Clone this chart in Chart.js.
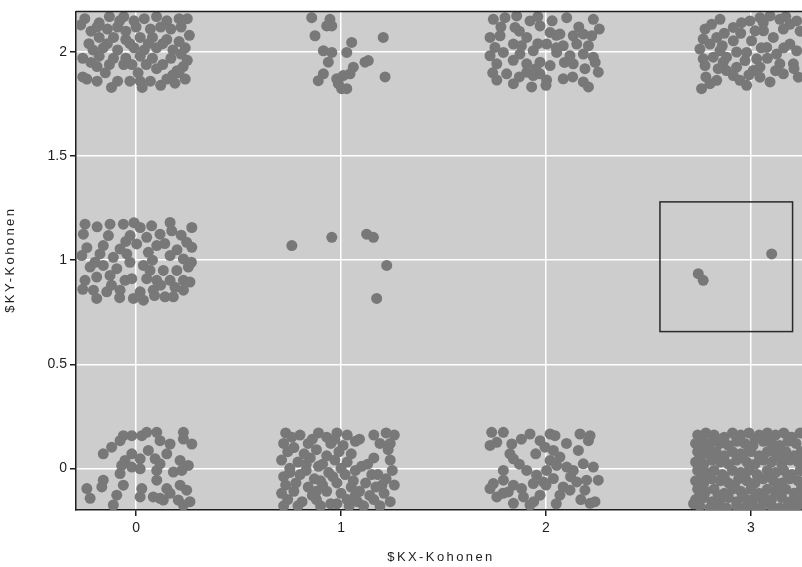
<!DOCTYPE html>
<html>
<head>
<meta charset="utf-8">
<script src="https://cdn.jsdelivr.net/npm/chart.js@4.4.1/dist/chart.umd.min.js"></script>
<style>
  html, body { margin:0; padding:0; background:#fff; }
  #wrap { width:802px; height:567px; }
</style>
</head>
<body>
<div id="wrap"><canvas id="kohonen" width="802" height="567"></canvas></div>
<script>
/* ---------- DATA ---------- */
const xTicks = [0, 1, 2, 3];
const yTicks = [0, 0.5, 1, 1.5, 2];
const xRange = [-0.293, 3.249];
const yRange = [-0.2, 2.195];
const xTitle = "$KX-Kohonen";
const yTitle = "$KY-Kohonen";
// highlighted cell (data units)
const boxX = [2.556, 3.203];
const boxY = [0.657, 1.28];

// cluster (0,2)
const c02 = [
  [-0.25,2.16],[-0.18,2.14],[-0.13,2.17],[-0.06,2.17],[-0.01,2.15],[0.04,2.16],[0.10,2.17],[0.15,2.15],[0.21,2.16],[0.25,2.16],
  [-0.22,2.10],[-0.19,2.12],[-0.14,2.11],[-0.09,2.12],[-0.05,2.10],[0.00,2.12],[0.07,2.11],[0.12,2.12],[0.17,2.11],[0.26,2.08],
  [-0.18,2.07],[-0.11,2.07],[-0.05,2.06],[0.02,2.07],[0.08,2.07],[0.15,2.06],[0.21,2.05],
  [-0.21,2.01],[-0.16,2.02],[-0.09,2.01],[-0.01,2.02],[0.04,2.01],[0.10,2.02],[0.18,2.01],
  [-0.26,1.97],[-0.18,1.98],[-0.11,1.97],[-0.05,1.97],[0.02,1.98],[0.08,1.97],[0.17,1.97],[0.22,1.99],[0.25,1.96],
  [-0.19,1.93],[-0.13,1.94],[-0.06,1.94],[0.05,1.94],[0.13,1.94],[0.20,1.91],[0.23,1.93],
  [-0.24,1.87],[-0.19,1.86],[-0.09,1.86],[-0.03,1.86],[0.02,1.86],[0.07,1.86],[0.12,1.84],[0.15,1.87],[0.18,1.89],[0.21,1.90],
  [-0.12,1.83],[0.03,1.83],[0.19,1.85],
  [-0.23,2.04],[-0.14,2.04],[-0.03,2.04],[0.06,2.04],[0.13,2.04],[0.24,2.02],[-0.22,1.95],[-0.02,1.94],
  [0.10,1.92],[-0.15,1.90],[-0.27,2.13],[0.22,2.12],[-0.08,2.15],[0.01,1.90],[-0.26,1.88],[0.24,1.87]
];
// cluster (1,2)
const c12 = [
  [0.857,2.165],[0.946,2.157],[0.93,2.125],[0.955,2.125],[0.873,2.078],[1.052,2.046],[1.206,2.07],
  [0.914,2.006],[0.955,1.998],[1.028,1.998],[0.938,1.951],[1.117,1.951],[1.133,1.959],[1.06,1.927],
  [0.914,1.895],[1.044,1.895],[1.215,1.88],[0.889,1.862],[0.979,1.871],[1.011,1.887],[1.003,1.824],
  [1.028,1.824],[0.987,1.848]
];
// cluster (2,2)
const c22 = [
  [1.743,2.157],[1.80,2.165],[1.857,2.173],[1.922,2.149],[1.971,2.125],[1.849,2.118],[2.101,2.165],[2.231,2.157],
  [1.727,2.07],[1.776,2.078],[1.906,2.07],[2.02,2.094],[2.068,2.086],[2.133,2.078],[2.182,2.086],[2.223,2.078],
  [1.751,2.022],[1.841,2.038],[2.003,2.038],[2.084,2.03],[2.15,2.038],[2.207,2.03],
  [1.727,1.982],[1.792,1.998],[1.873,1.99],[1.938,2.006],[2.052,1.998],[2.117,1.982],[2.182,1.99],[2.231,1.975],
  [1.76,1.943],[1.906,1.943],[1.971,1.951],[2.02,1.935],[2.133,1.943],
  [1.808,1.895],[1.906,1.903],[1.971,1.895],[2.255,1.903],
  [1.76,1.865],[1.841,1.848],[2.003,1.865],[2.084,1.871],[2.182,1.856],[1.93,1.832],[2.207,1.832],[1.938,1.887],
  [1.95,1.92],[2.05,2.08],[1.87,2.10],
  [1.78,2.12],[1.96,2.17],[2.03,2.15],[2.16,2.12],[2.26,2.11],[1.88,2.03],[1.96,2.04],[2.05,2.02],
  [1.84,1.96],[2.09,1.95],[2.19,1.92],[1.74,1.90],[2.00,1.84],[2.13,1.88],[2.24,1.95],[1.87,1.88]
];
// cluster (3,2)
const c32 = [
  [2.849,2.157],[2.808,2.133],[2.776,2.11],[2.767,2.062],[2.751,2.014],[2.767,1.967],[2.776,1.935],[2.80,2.038],
  [2.833,2.07],[2.849,2.006],[2.816,1.975],[2.865,1.951],[2.881,1.911],[2.914,1.887],[2.946,1.864],[2.979,1.84],
  [2.80,1.848],[2.759,1.824],[2.833,1.864],[2.914,2.118],[2.954,2.141],[2.995,2.149],[3.044,2.165],[3.093,2.173],
  [3.141,2.157],[3.19,2.133],[3.223,2.149],[3.02,2.102],[3.003,2.054],[2.979,1.998],[2.971,1.959],[3.028,1.967],
  [3.011,1.911],[3.044,1.879],[3.093,1.856],[3.077,2.022],[3.109,2.07],[3.125,1.99],[3.141,1.943],[3.19,2.038],
  [3.223,2.006],[3.207,1.943],[3.231,1.879],[2.914,2.054],[2.93,1.927],[3.061,2.102],[3.158,2.11],[2.881,1.975],
  [3.044,1.927],[3.158,1.895],
  [2.87,2.09],[2.95,2.09],[3.06,2.14],[3.17,2.17],[2.86,2.03],[3.05,2.02],[3.16,2.02],[2.84,1.92],
  [2.99,1.89],[3.12,1.91],[3.21,1.92],[2.78,1.88],[3.08,1.97],[2.93,2.00],[3.24,2.10]
];
// cluster (0,1)
const c01 = [
  [-0.249,1.173],[-0.257,1.125],[-0.127,1.173],[-0.062,1.173],[0.02,1.157],[0.076,1.165],[0.166,1.181],[0.174,1.141],[0.272,1.157],
  [-0.135,1.118],[-0.029,1.118],[0.052,1.11],[0.117,1.125],
  [-0.16,1.07],[-0.078,1.054],[0.003,1.078],[0.101,1.07],[0.247,1.086],[0.272,1.062],
  [-0.265,1.022],[-0.176,1.03],[-0.111,1.014],[-0.045,1.03],[0.06,1.038],[0.166,1.022],[0.231,1.006],
  [-0.224,0.967],[-0.16,0.975],[-0.094,0.959],[0.036,0.975],[0.068,0.951],[0.133,0.951],[0.199,0.951],[0.255,0.967],
  [-0.249,0.903],[-0.192,0.919],[-0.127,0.927],[-0.054,0.903],[-0.021,0.911],[0.052,0.911],[0.101,0.903],[0.166,0.903],[0.231,0.903],[0.263,0.895],
  [-0.208,0.856],[-0.143,0.848],[-0.078,0.856],[0.02,0.848],[0.084,0.856],[0.231,0.856],
  [-0.192,0.816],[-0.013,0.816],[0.141,0.824],[0.182,0.824],[0.036,0.808],
  [-0.05,1.09],[0.08,1.0],[-0.2,0.99],[0.2,1.05],[0.12,0.88],
  [-0.19,1.16],[-0.01,1.18],[0.22,1.12],[-0.24,1.06],[0.14,1.08],[-0.03,0.99],[0.27,0.99],[-0.12,0.88],
  [0.19,0.87],[-0.26,0.86],[0.09,0.83],[-0.08,0.82]
];
// cluster (1,1)
const c11 = [[0.76,1.07],[0.955,1.11],[1.125,1.125],[1.158,1.11],[1.223,0.975],[1.174,0.816]];
// cluster (3,1)
const c31 = [[2.743,0.935],[2.767,0.903],[3.101,1.03]];
// cluster (0,0)
const c00 = [
  [-0.062,0.157],[-0.021,0.157],[0.028,0.157],[0.052,0.173],[0.101,0.173],[0.117,0.133],[0.231,0.173],[0.231,0.141],[0.272,0.117],
  [-0.078,0.133],[-0.119,0.102],[-0.16,0.07],[0.06,0.086],[0.166,0.117],[0.15,0.07],[-0.021,0.07],
  [-0.054,0.038],[0.02,0.046],[0.093,0.046],[0.215,0.038],[0.255,0.014],[-0.021,0.006],[0.02,-0.002],
  [-0.078,-0.025],[0.101,-0.01],[0.182,-0.018],[0.223,-0.01],[-0.16,-0.057],[0.101,-0.057],
  [-0.24,-0.097],[-0.167,-0.089],[-0.062,-0.081],[0.028,-0.097],[0.15,-0.097],[0.215,-0.081],[0.247,-0.105],
  [-0.224,-0.144],[-0.094,-0.129],[0.02,-0.137],[0.084,-0.137],[0.133,-0.152],[0.166,-0.12],[0.206,-0.152],[0.263,-0.16],
  [-0.111,-0.176],[0.231,-0.176],[0.117,-0.144],[-0.07,0.014],[0.117,0.022]
];
// cluster (1,0)
const c10 = [
  [0.73,0.17],[0.80,0.16],[0.89,0.17],[0.93,0.15],[0.98,0.17],[1.03,0.16],[1.07,0.13],[1.22,0.17],[1.26,0.16],
  [0.72,0.12],[0.77,0.10],[0.86,0.14],[0.95,0.12],[1.01,0.11],[1.09,0.14],[1.19,0.12],
  [0.74,0.08],[0.82,0.07],[0.88,0.09],[0.93,0.06],[0.99,0.08],[1.05,0.07],[1.23,0.09],
  [0.71,0.04],[0.79,0.03],[0.85,0.05],[0.91,0.02],[0.97,0.04],[1.03,0.03],[1.10,0.01],[1.16,0.05],[1.24,0.04],
  [0.75,0.00],[0.83,-0.01],[0.89,0.01],[0.94,-0.02],[1.00,0.00],[1.07,-0.01],[1.13,0.02],[1.25,-0.01],
  [0.72,-0.04],[0.80,-0.03],[0.87,-0.05],[0.96,-0.04],[1.02,-0.03],[1.06,-0.06],[1.18,-0.03],[1.22,-0.05],
  [0.73,-0.08],[0.78,-0.07],[0.84,-0.09],[0.91,-0.08],[0.98,-0.07],[1.05,-0.09],[1.12,-0.07],[1.17,-0.09],[1.26,-0.08],
  [0.71,-0.12],[0.77,-0.11],[0.86,-0.13],[0.93,-0.11],[1.00,-0.12],[1.09,-0.11],[1.14,-0.13],[1.21,-0.12],
  [0.74,-0.15],[0.81,-0.16],[0.88,-0.15],[0.95,-0.17],[1.03,-0.15],[1.08,-0.16],[1.16,-0.15],[1.24,-0.16],
  [0.72,-0.18],[0.79,-0.18],[0.90,-0.18],[0.98,-0.17],[1.04,-0.18],[1.11,-0.18],[1.19,-0.18],
  [0.76,0.15],[0.84,0.12],[1.16,0.16],[0.97,0.14],[1.24,0.12],[0.75,-0.02],[0.88,-0.11],[1.07,-0.13],
  [1.20,-0.08],[0.83,0.02],[1.15,-0.03],[0.90,-0.06]
];
// cluster (2,0)
const c20 = [
  [1.735,0.173],[1.792,0.173],[1.76,0.125],[1.727,0.11],[1.833,0.117],[1.824,0.07],[1.841,0.046],
  [1.922,0.165],[1.971,0.133],[2.02,0.165],[2.044,0.157],[1.995,0.102],[2.036,0.086],[2.068,0.054],
  [2.166,0.165],[2.215,0.157],[2.207,0.133],[2.158,0.086],[2.182,0.022],[2.231,0.006],
  [1.792,-0.01],[1.906,-0.01],[1.954,-0.033],[2.003,-0.01],[2.052,0.014],[2.101,0.006],[2.133,-0.01],[2.02,0.038],
  [1.743,-0.073],[1.792,-0.057],[1.841,-0.081],[1.881,-0.097],[1.938,-0.073],[1.987,-0.065],[2.036,-0.049],
  [2.084,-0.089],[2.15,-0.065],[2.198,-0.057],[2.255,-0.057],
  [1.76,-0.137],[1.89,-0.137],[1.971,-0.129],[2.068,-0.129],[2.117,-0.105],[2.19,-0.105],
  [1.841,-0.168],[1.922,-0.176],[2.215,-0.168],[2.239,-0.16],[1.727,-0.097],[1.816,-0.113],
  [1.88,0.14],[1.95,0.07],[2.10,0.12],[1.87,0.02],[2.00,-0.08],[2.12,-0.04],[1.79,-0.12],[2.05,-0.17],
  [2.17,-0.15],[1.94,-0.16]
];
// cluster (3,0)
const c30 = [
  [2.74,0.16],[2.78,0.17],[2.82,0.16],[2.87,0.15],[2.91,0.17],[2.95,0.16],[2.99,0.17],[3.04,0.16],[3.08,0.17],[3.12,0.16],[3.16,0.17],[3.20,0.15],[3.24,0.17],
  [2.73,0.12],[2.77,0.11],[2.81,0.13],[2.85,0.12],[2.89,0.11],[2.93,0.13],[2.97,0.12],[3.01,0.11],[3.06,0.13],[3.10,0.12],[3.14,0.11],[3.18,0.13],[3.22,0.12],
  [2.74,0.08],[2.79,0.07],[2.83,0.08],[2.87,0.06],[2.91,0.08],[2.95,0.07],[3.00,0.08],[3.04,0.06],[3.08,0.08],[3.12,0.07],[3.17,0.08],[3.21,0.06],[3.245,0.08],
  [2.73,0.03],[2.77,0.02],[2.81,0.04],[2.85,0.03],[2.89,0.02],[2.93,0.04],[2.98,0.03],[3.02,0.02],[3.06,0.04],[3.10,0.03],[3.15,0.02],[3.19,0.04],[3.23,0.03],
  [2.74,-0.01],[2.78,-0.02],[2.82,-0.01],[2.86,-0.03],[2.91,-0.01],[2.95,-0.02],[2.99,-0.01],[3.03,-0.03],[3.08,-0.01],[3.12,-0.02],[3.16,-0.01],[3.20,-0.03],[3.24,-0.01],
  [2.73,-0.06],[2.77,-0.07],[2.81,-0.05],[2.85,-0.06],[2.89,-0.07],[2.94,-0.05],[2.98,-0.06],[3.02,-0.07],[3.06,-0.05],[3.11,-0.06],[3.15,-0.07],[3.19,-0.05],[3.23,-0.06],
  [2.74,-0.10],[2.78,-0.11],[2.82,-0.10],[2.87,-0.12],[2.91,-0.10],[2.95,-0.11],[3.00,-0.10],[3.04,-0.12],[3.08,-0.10],[3.12,-0.11],[3.17,-0.10],[3.21,-0.12],[3.245,-0.10],
  [2.73,-0.15],[2.77,-0.14],[2.81,-0.16],[2.85,-0.15],[2.89,-0.14],[2.93,-0.16],[2.98,-0.15],[3.02,-0.14],[3.06,-0.16],[3.10,-0.15],[3.15,-0.14],[3.19,-0.16],[3.23,-0.15],
  [2.75,-0.18],[2.80,-0.19],[2.84,-0.18],[2.88,-0.19],[2.93,-0.18],[2.97,-0.19],[3.01,-0.18],[3.05,-0.19],[3.10,-0.18],[3.14,-0.19],[3.18,-0.18],[3.22,-0.19],
  [2.76,0.14],[2.84,0.14],[2.93,0.15],[3.02,0.14],[3.10,0.14],[3.19,0.15],[2.75,0.05],[2.84,0.05],
  [2.96,0.05],[3.05,0.05],[3.14,0.05],[3.23,0.05],[2.76,-0.04],[2.87,-0.04],[2.97,-0.04],[3.09,-0.04],
  [3.18,-0.04],[2.75,-0.13],[2.84,-0.13],[2.96,-0.13],[3.06,-0.13],[3.14,-0.12],[3.23,-0.13],[2.80,0.09],
  [2.99,0.10],[3.13,0.09],[2.92,-0.08],[3.13,-0.08],[2.72,-0.17],[3.24,-0.17]
];

/* ---------- STYLE ---------- */
const FONT = "'Liberation Sans', Arial, sans-serif";
const INK = "#1e1e1e";
const PLOT_BG = "#cdcdcd";
const DOT = "#787878";

const allPoints = [c02, c12, c22, c32, c01, c11, c31, c00, c10, c20, c30]
  .flat()
  .map(p => ({ x: p[0], y: p[1] }));

/* ---------- plugins ---------- */
const plotBackground = {
  id: "plotBackground",
  beforeDraw(chart){
    const { ctx, chartArea: a } = chart;
    ctx.save();
    ctx.fillStyle = PLOT_BG;
    ctx.fillRect(a.left, a.top, a.right - a.left, a.bottom - a.top);
    ctx.restore();
  }
};

const frameAndBox = {
  id: "frameAndBox",
  afterDatasetsDraw(chart){
    const { ctx, chartArea: a, scales } = chart;
    ctx.save();
    // top frame line
    ctx.strokeStyle = INK;
    ctx.lineWidth = 1.5;
    ctx.beginPath();
    ctx.moveTo(a.left, a.top);
    ctx.lineTo(a.right, a.top);
    ctx.stroke();
    // highlighted cell
    const x0 = scales.x.getPixelForValue(boxX[0]);
    const x1 = scales.x.getPixelForValue(boxX[1]);
    const y0 = scales.y.getPixelForValue(boxY[0]);
    const y1 = scales.y.getPixelForValue(boxY[1]);
    ctx.strokeStyle = "#2a2a2a";
    ctx.lineWidth = 1.5;
    ctx.strokeRect(x0, y1, x1 - x0, y0 - y1);
    ctx.restore();
  }
};

// axis titles, letter-spaced like the original export
const axisTitles = {
  id: "axisTitles",
  afterDraw(chart){
    const { ctx, chartArea: a } = chart;
    ctx.save();
    ctx.fillStyle = INK;
    ctx.font = "13px " + FONT;
    ctx.letterSpacing = "2.4px";
    ctx.textAlign = "center";
    ctx.textBaseline = "middle";
    ctx.fillText(xTitle, (a.left + a.right) / 2 + 2, 557);
    ctx.translate(10, (a.top + a.bottom) / 2);
    ctx.rotate(-Math.PI / 2);
    ctx.fillText(yTitle, 1, 0);
    ctx.restore();
  }
};

/* ---------- chart ---------- */
new Chart(document.getElementById("kohonen").getContext("2d"), {
  type: "scatter",
  data: {
    datasets: [{
      data: allPoints,
      backgroundColor: DOT,
      borderWidth: 0,
      pointRadius: 5.5,
      pointHoverRadius: 5.5,
      clip: 0
    }]
  },
  options: {
    responsive: false,
    animation: false,
    layout: { autoPadding: false, padding: { top: 7, right: 0, left: 0, bottom: 0 } },
    plugins: { legend: { display: false }, tooltip: { enabled: false } },
    scales: {
      x: {
        type: "linear",
        min: xRange[0], max: xRange[1],
        afterBuildTicks: s => { s.ticks = xTicks.map(v => ({ value: v })); },
        afterFit: s => { s.height = 57; },
        grid: { color: "#ffffff", lineWidth: 1.5, tickColor: INK, tickLength: 6 },
        border: { display: true, color: INK, width: 1.5 },
        ticks: { color: INK, font: { family: FONT, size: 14 }, padding: 4, callback: v => String(v) },
        title: { display: false }
      },
      y: {
        type: "linear",
        min: yRange[0], max: yRange[1],
        afterBuildTicks: s => { s.ticks = yTicks.map(v => ({ value: v })); },
        afterFit: s => { s.width = 76; },
        grid: { color: "#ffffff", lineWidth: 1.5, tickColor: INK, tickLength: 6 },
        border: { display: true, color: INK, width: 1.5 },
        ticks: { color: INK, font: { family: FONT, size: 14 }, padding: 3, callback: v => String(v) },
        title: { display: false }
      }
    }
  },
  plugins: [plotBackground, frameAndBox, axisTitles]
});
</script>
</body>
</html>
